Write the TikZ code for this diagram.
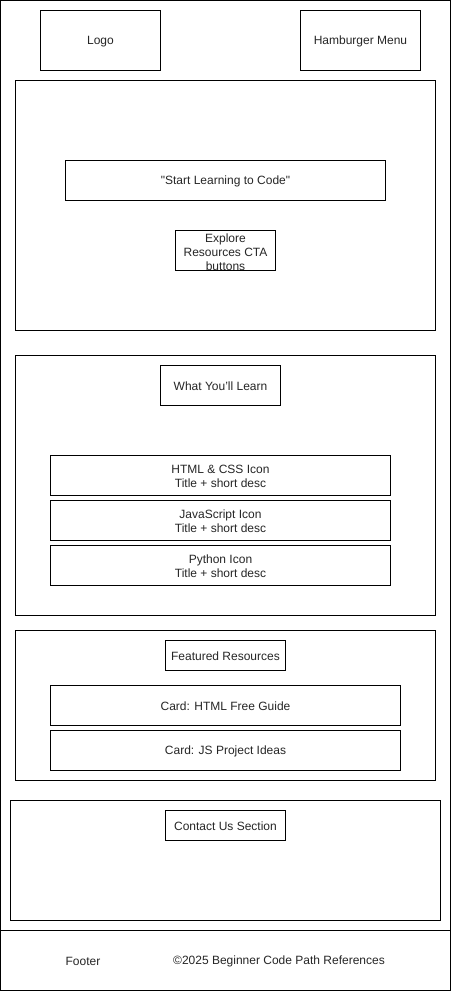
\documentclass[tikz,border=0pt]{standalone}
\usepackage{fontspec}
\setmainfont{Liberation Sans}[Ligatures=TeXOff]
\begin{document}
\begin{tikzpicture}[x=1pt,y=-1pt,
  box/.style={draw=black,line width=1pt},
  lbl/.style={font=\fontsize{12}{14}\selectfont,align=center,inner sep=0pt,text=black!85}]
\useasboundingbox (0,0) rectangle (451,991);
\fill[white] (0,0) rectangle (451,991);
% outer frame and footer
\draw[box] (0.5,0.5) rectangle (450.5,930.5);
\draw[box] (0.5,930.5) rectangle (450.5,990.5);
% header
\draw[box] (40.5,10.5) rectangle (160.5,70.5);
\node[lbl] (logo) at (100.5,41.5) {Logo};
\draw[box] (300.5,10.5) rectangle (420.5,70.5);
\node[lbl] (menu) at (360.5,41.5) {Hamburger Menu};
% hero
\draw[box] (15.5,80.5) rectangle (435.5,330.5);
\draw[box] (65.5,160.5) rectangle (385.5,200.5);
\node[lbl] (slogan) at (225.5,181.5) {"Start Learning to Code"};
\draw[box] (175.5,230.5) rectangle (275.5,270.5);
\node[lbl] (cta) at (225.5,252) {Explore\\Resources CTA\\buttons};
% learn section
\draw[box] (15.5,355.5) rectangle (435.5,615.5);
\draw[box] (160.5,365.5) rectangle (280.5,405.5);
\node[lbl] (learn) at (220.5,386.5) {What You’ll Learn};
\draw[box] (50.5,455.5) rectangle (390.5,495.5);
\node[lbl] (html) at (220.5,476.5) {HTML \& CSS Icon\\Title + short desc};
\draw[box] (50.5,500.5) rectangle (390.5,540.5);
\node[lbl] (js) at (220.5,521.5) {JavaScript Icon\\Title + short desc};
\draw[box] (50.5,545.5) rectangle (390.5,585.5);
\node[lbl] (py) at (220.5,566.5) {Python Icon\\Title + short desc};
% featured
\draw[box] (15.5,630.5) rectangle (435.5,780.5);
\draw[box] (165.5,640.5) rectangle (285.5,670.5);
\node[lbl] (feat) at (225.5,656.5) {Featured Resources};
\draw[box] (50.5,685.5) rectangle (400.5,725.5);
\node[lbl] (card1) at (225.5,706.5) {Card: HTML Free Guide};
\draw[box] (50.5,730.5) rectangle (400.5,770.5);
\node[lbl] (card2) at (225.5,751.5) {Card: JS Project Ideas};
% contact
\draw[box] (10.5,800.5) rectangle (440.5,920.5);
\draw[box] (165.5,810.5) rectangle (285.5,840.5);
\node[lbl] (contact) at (225.5,826.5) {Contact Us Section};
% footer texts
\node[lbl] (footer) at (83,961.5) {Footer};
\node[lbl] (copy) at (279,961.5) {©2025 Beginner Code Path References};
\end{tikzpicture}
\end{document}
